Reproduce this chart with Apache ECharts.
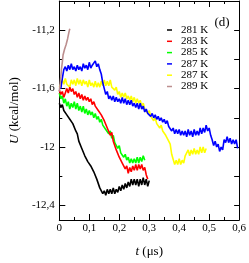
<!DOCTYPE html>
<html>
<head>
<meta charset="utf-8">
<script src="https://cdn.jsdelivr.net/npm/echarts@6/dist/echarts.min.js"></script>
<style>html,body{margin:0;padding:0;background:#fff}#c{width:249px;height:263px}</style>
</head>
<body>
<div id="c"></div>
<script>
// ---- data (U in kcal/mol, sampled every STEP microseconds) ----
const STEP = 0.005;
const seriesNames = ['281 K', '283 K', '285 K', '287 K', '287 K ', '289 K'];
const seriesColors = ['#000000', '#ff0000', '#00ff00', '#0000ff', '#ffff00', '#bc8f8f'];

const t281Start = 0;
const u281 = [-11.70,-11.73,-11.71,-11.75,-11.74,-11.78,-11.77,-11.81,-11.80,-11.84,
  -11.85,-11.89,-11.91,-11.96,-11.96,-12.01,-12.01,-12.06,-12.05,-12.10,
  -12.09,-12.13,-12.12,-12.17,-12.17,-12.22,-12.23,-12.28,-12.28,-12.32,
  -12.30,-12.33,-12.29,-12.32,-12.29,-12.32,-12.28,-12.32,-12.29,-12.31,
  -12.27,-12.30,-12.26,-12.29,-12.25,-12.28,-12.24,-12.27,-12.22,-12.26,
  -12.22,-12.26,-12.22,-12.27,-12.22,-12.26,-12.21,-12.26,-12.22,-12.27,-12.23];

const t283Start = 0;
const u283 = [-11.61,-11.64,-11.62,-11.66,-11.63,-11.60,-11.63,-11.59,-11.62,-11.60,
  -11.64,-11.62,-11.66,-11.63,-11.67,-11.64,-11.68,-11.65,-11.68,-11.66,
  -11.69,-11.67,-11.71,-11.69,-11.72,-11.71,-11.75,-11.74,-11.78,-11.78,
  -11.82,-11.82,-11.87,-11.86,-11.92,-11.90,-11.96,-11.96,-12.02,-12.01,
  -12.07,-12.06,-12.11,-12.10,-12.15,-12.13,-12.18,-12.14,-12.17,-12.13,
  -12.16,-12.12,-12.16,-12.12,-12.15,-12.12,-12.16,-12.14,-12.19,-12.22];

const t285Start = 0;
const u285 = [-11.63,-11.67,-11.65,-11.70,-11.67,-11.72,-11.69,-11.74,-11.70,-11.73,
  -11.69,-11.74,-11.70,-11.75,-11.72,-11.76,-11.72,-11.77,-11.74,-11.78,
  -11.75,-11.78,-11.76,-11.80,-11.77,-11.81,-11.79,-11.83,-11.81,-11.85,
  -11.84,-11.88,-11.87,-11.91,-11.89,-11.94,-11.92,-11.97,-11.96,-12.01,
  -11.99,-12.04,-12.03,-12.07,-12.05,-12.09,-12.07,-12.11,-12.08,-12.11,
  -12.08,-12.11,-12.07,-12.11,-12.07,-12.10,-12.06,-12.09];

const t287aStart = 0.005;
const u287a = [-11.60,-11.53,-11.47,-11.45,-11.48,-11.44,-11.47,-11.43,-11.47,-11.45,
  -11.48,-11.44,-11.47,-11.45,-11.48,-11.43,-11.46,-11.44,-11.47,-11.42,
  -11.46,-11.44,-11.45,-11.41,-11.45,-11.43,-11.47,-11.50,-11.56,-11.60,
  -11.64,-11.62,-11.67,-11.65,-11.68,-11.65,-11.69,-11.66,-11.69,-11.67,
  -11.70,-11.66,-11.70,-11.67,-11.71,-11.68,-11.71,-11.68,-11.72,-11.70,
  -11.73,-11.70,-11.74,-11.70,-11.74,-11.72,-11.76,-11.74,-11.77,-11.76,
  -11.79,-11.77,-11.80,-11.78,-11.81,-11.79,-11.82,-11.80,-11.83,-11.81,
  -11.84,-11.82,-11.86,-11.86,-11.89,-11.87,-11.91,-11.88,-11.91,-11.88,
  -11.92,-11.89,-11.92,-11.89,-11.93,-11.88,-11.92,-11.89,-11.93,-11.88,
  -11.92,-11.89,-11.92,-11.87,-11.91,-11.87,-11.90,-11.85,-11.89,-11.87,
  -11.92,-11.95,-11.99,-11.96,-12.00,-11.98,-12.03,-12.00,-12.02,-11.95,
  -11.97,-11.93,-11.97,-11.94,-11.98,-11.95,-11.98,-11.95,-12.01];

const t287bStart = 0;
const u287b = [-11.59,-11.57,-11.54,-11.57,-11.53,-11.57,-11.56,-11.59,-11.54,-11.57,
  -11.54,-11.58,-11.53,-11.57,-11.54,-11.58,-11.54,-11.57,-11.55,-11.59,
  -11.54,-11.58,-11.56,-11.59,-11.55,-11.59,-11.56,-11.59,-11.55,-11.58,
  -11.54,-11.58,-11.55,-11.58,-11.54,-11.59,-11.58,-11.61,-11.59,-11.64,
  -11.62,-11.66,-11.63,-11.66,-11.63,-11.67,-11.65,-11.68,-11.65,-11.69,
  -11.66,-11.70,-11.67,-11.70,-11.68,-11.72,-11.70,-11.74,-11.73,-11.77,
  -11.75,-11.79,-11.78,-11.82,-11.80,-11.84,-11.83,-11.87,-11.85,-11.89,
  -11.88,-11.92,-11.91,-11.96,-11.98,-12.05,-12.06,-12.12,-12.09,-12.12,
  -12.08,-12.12,-12.09,-12.11,-12.06,-12.07,-12.02,-12.06,-12.02,-12.05,
  -12.01,-12.05,-12.02,-12.05,-12.00,-12.04,-12.00,-12.04,-12.01];

const t289Start = 0;
const STEP289 = 0.0025;
const u289 = [-11.62,-11.57,-11.52,-11.46,-11.42,-11.37,-11.36,-11.33,-11.34,-11.30,
  -11.31,-11.26,-11.27,-11.21,-11.19];

// ---- axis ticks / labels ----
const yLabelValues = [-12.4, -12, -11.6, -11.2];
const yMinorValues = [-12.2, -11.8, -11.4];
const yAllValues = [-12.4, -12.2, -12, -11.8, -11.6, -11.4, -11.2];

function pairs(start, step, vals) {
  return vals.map((v, i) => [+(start + i * step).toFixed(4), v]);
}
const comma = v => String(v).replace('.', ',');
const FONT = 'Liberation Serif';

const datasets = [
  pairs(t281Start, STEP, u281),
  pairs(t283Start, STEP, u283),
  pairs(t285Start, STEP, u285),
  pairs(t287aStart, STEP, u287a),
  pairs(t287bStart, STEP, u287b),
  pairs(t289Start, STEP289, u289)
];
const drawOrder = [4, 3, 2, 1, 0, 5];

const chart = echarts.init(document.getElementById('c'), null, {renderer: 'canvas'});
const grid = {left: 43, right: 7.5, top: 1, bottom: 31};
const lineC = {lineStyle: {color: '#000', width: 1}};

chart.setOption({
  animation: false,
  backgroundColor: '#fff',
  grid: grid,
  legend: {
    orient: 'vertical', left: 162, top: 19.5,
    itemWidth: 5, itemHeight: 1.5, itemGap: 0.3, icon: 'rect',
    data: seriesNames,
    formatter: n => n.trim(),
    textStyle: {fontFamily: FONT, fontSize: 11, lineHeight: 11, color: '#000', padding: [0, 0, 0, 4]},
    selectedMode: false
  },
  graphic: [{type: 'text', left: 214.5, top: 16, style: {text: '(d)', fontFamily: FONT, fontSize: 13, fill: '#000'}}],
  xAxis: [
    {type: 'value', position: 'bottom', min: 0, max: 0.6, interval: 0.1,
     axisLine: lineC, splitLine: {show: false},
     axisTick: {inside: true, length: 6, lineStyle: {color: '#000'}},
     minorTick: {show: true, splitNumber: 2, length: 3, lineStyle: {color: '#000'}},
     axisLabel: {formatter: comma, fontFamily: FONT, fontSize: 11, color: '#000', margin: 3},
     name: '{i|t} (μs)', nameLocation: 'middle', nameGap: 25,
     nameTextStyle: {fontFamily: FONT, fontSize: 13, color: '#000', rich: {i: {fontFamily: FONT, fontSize: 13, fontStyle: 'italic'}}}},
    {type: 'value', position: 'top', min: 0, max: 0.6, interval: 0.1,
     axisLine: lineC, splitLine: {show: false},
     axisTick: {inside: true, length: 6, lineStyle: {color: '#000'}},
     minorTick: {show: true, splitNumber: 2, length: 3, lineStyle: {color: '#000'}},
     axisLabel: {show: false}}
  ],
  yAxis: [
    {type: 'value', position: 'left', min: -12.5, max: -11.0,
     axisLine: lineC, splitLine: {show: false},
     axisTick: {inside: true, length: 6, customValues: yLabelValues, lineStyle: {color: '#000'}},
     axisLabel: {customValues: yLabelValues, formatter: comma, fontFamily: FONT, fontSize: 11, color: '#000', margin: 4.5},
     name: '{i|U} (kcal/mol)', nameLocation: 'middle', nameGap: 34,
     nameTextStyle: {fontFamily: FONT, fontSize: 13, color: '#000', rich: {i: {fontFamily: FONT, fontSize: 13, fontStyle: 'italic'}}}},
    {type: 'value', position: 'left', min: -12.5, max: -11.0,
     axisLine: {show: false}, splitLine: {show: false},
     axisTick: {inside: true, length: 3, customValues: yMinorValues, lineStyle: {color: '#000'}},
     axisLabel: {show: false}},
    {type: 'value', position: 'right', min: -12.5, max: -11.0,
     axisLine: lineC, splitLine: {show: false},
     axisTick: {inside: true, length: 5, customValues: yAllValues, lineStyle: {color: '#000'}},
     axisLabel: {show: false}}
  ],
  series: drawOrder.map(k => ({
    type: 'line', name: seriesNames[k], data: datasets[k],
    xAxisIndex: 0, yAxisIndex: 0,
    showSymbol: false, symbol: 'none',
    color: seriesColors[k],
    lineStyle: {color: seriesColors[k], width: 1.6},
    clip: true, z: 2
  }))
});
</script>
</body>
</html>
